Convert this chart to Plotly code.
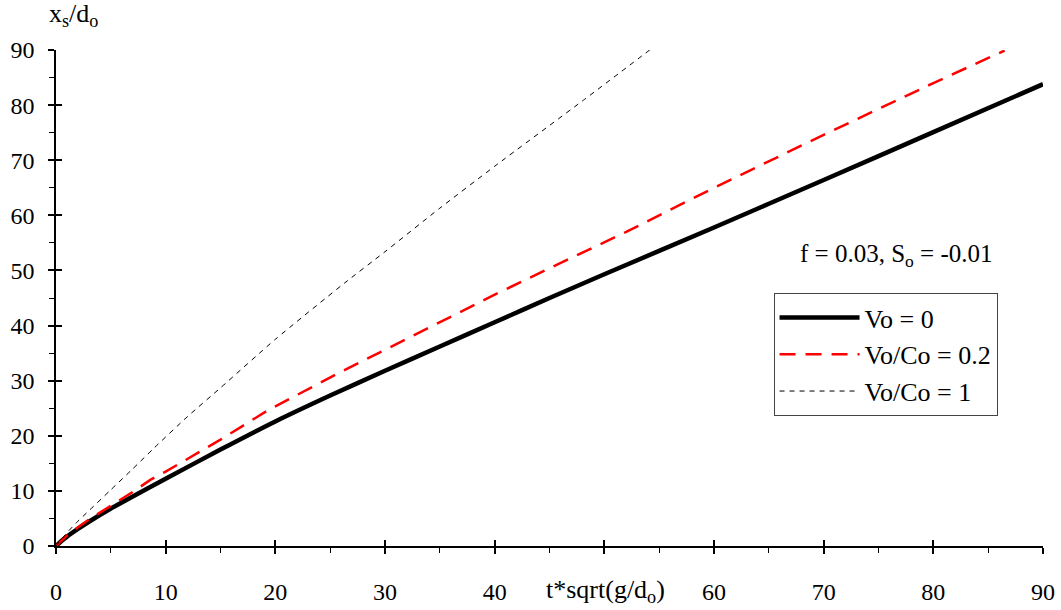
import plotly.graph_objects as go

# Data
x_v0 = [0, 0.5, 1, 2, 3, 5, 7, 10, 15, 20, 25, 30, 35, 40, 45, 50, 60, 70, 80, 90]
y_v0 = [0, 0.9, 1.7, 3.1, 4.4, 6.8, 9.0, 12.2, 17.5, 22.6, 27.3, 31.8, 36.2, 40.6, 45.0, 49.3, 57.8, 66.4, 75.1, 83.8]

x_v02 = [0, 0.5, 1, 2, 3, 5, 7, 8.6, 10, 15, 18.9, 19.3, 25.7, 26.2, 30.3, 35, 40, 45, 51.9, 60, 70, 80, 86.5]
y_v02 = [0, 1.0, 1.9, 3.4, 4.8, 7.3, 9.8, 12.0, 13.5, 19.3, 24.1, 24.6, 31.3, 31.8, 35.9, 40.7, 45.6, 50.4, 56.9, 65.0, 74.6, 84.0, 89.9]

x_v1 = [0, 1, 2, 3, 5, 7, 8.9, 12, 15, 20, 26.3, 30, 35, 40, 48.1, 54.2]
y_v1 = [0, 2.4, 4.5, 6.4, 10.2, 14.0, 17.7, 23.5, 28.7, 37.5, 47.7, 53.4, 61.3, 68.9, 80.9, 90.1]

x_ticks = [0, 10, 20, 30, 40, 50, 60, 70, 80, 90]
y_ticks = [0, 10, 20, 30, 40, 50, 60, 70, 80, 90]

FONT = "Liberation Serif"
TXT = dict(family=FONT, size=26, color="black")

fig = go.Figure()
fig.add_trace(go.Scatter(x=x_v0, y=y_v0, mode="lines", name="Vo = 0",
                         line=dict(color="black", width=4.5, shape="spline", smoothing=0.6)))
fig.add_trace(go.Scatter(x=x_v02, y=y_v02, mode="lines", name="Vo/Co = 0.2",
                         line=dict(color="#ff0000", width=2.5, dash="16px,10px")))
fig.add_trace(go.Scatter(x=x_v1, y=y_v1, mode="lines", name="Vo/Co = 1",
                         line=dict(color="black", width=1, dash="5px,5px", shape="spline", smoothing=0.6)))
# invisible carrier so the overlay axes (inner half of crossing major ticks) are drawn
fig.add_trace(go.Scatter(x=[x_ticks[0]], y=[y_ticks[0]], xaxis="x2", yaxis="y2", mode="markers",
                         marker=dict(opacity=0), showlegend=False, hoverinfo="skip"))

axis_common = dict(showgrid=False, zeroline=False, showline=True, linecolor="black", linewidth=1.5,
                   automargin=False, tickfont=dict(family=FONT, size=24, color="black"))

fig.update_layout(
    width=1061, height=610,
    margin=dict(l=56, r=18, t=50, b=64, autoexpand=False),
    paper_bgcolor="white", plot_bgcolor="white",
    font=dict(family=FONT, size=24, color="black"),
    xaxis=dict(range=[0, 90], tickvals=x_ticks, ticks="outside", ticklen=6, tickwidth=1.5,
               tickcolor="black", minor=dict(ticks="outside", dtick=5, ticklen=5, tickcolor="black", tickwidth=1),
               ticklabelstandoff=17, **axis_common),
    yaxis=dict(range=[0, 90], tickvals=y_ticks, ticks="outside", ticklen=6, tickwidth=1.5,
               tickcolor="black", minor=dict(ticks="outside", dtick=5, ticklen=5, tickcolor="black", tickwidth=1),
               ticklabelstandoff=9, **axis_common),
    xaxis2=dict(range=[0, 90], overlaying="x", tickvals=x_ticks, ticks="inside", ticklen=6, tickwidth=1.5,
                tickcolor="black", showticklabels=False, showgrid=False, zeroline=False, showline=False,
                side="bottom", anchor="y2", automargin=False),
    yaxis2=dict(range=[0, 90], overlaying="y", tickvals=y_ticks, ticks="inside", ticklen=6, tickwidth=1.5,
                tickcolor="black", showticklabels=False, showgrid=False, zeroline=False, showline=False,
                side="left", anchor="x2", automargin=False),
    legend=dict(x=0.727, y=0.51, xanchor="left", yanchor="top",
                bgcolor="white", bordercolor="#444", borderwidth=1,
                font=TXT, itemwidth=80, tracegroupgap=0),
    showlegend=True,
    annotations=[
        dict(text="f = 0.03, S<sub>o</sub> = -0.01", x=76.6, y=52.8, xref="x", yref="y",
             showarrow=False, font=dict(family=FONT, size=25, color="black")),
        dict(text="x<sub>s</sub>/d<sub>o</sub>", x=-0.009, y=1.07, xref="paper", yref="paper",
             xanchor="left", yanchor="middle", showarrow=False, font=TXT),
        dict(text="t*sqrt(g/d<sub>o</sub>)", x=0.557, y=-0.09, xref="paper", yref="paper",
             xanchor="center", yanchor="middle", showarrow=False, font=TXT, bgcolor="white"),
    ],
)

fig.write_html("out.html")
